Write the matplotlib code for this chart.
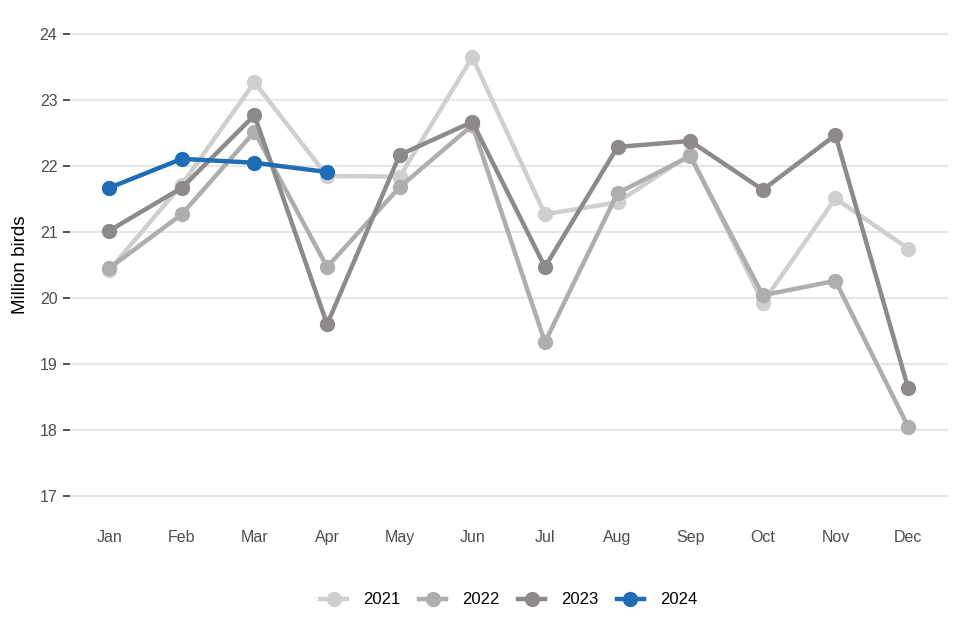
import matplotlib.pyplot as plt

plt.rcParams['font.family'] = ['Liberation Sans', 'DejaVu Sans']

months = ['Jan', 'Feb', 'Mar', 'Apr', 'May', 'Jun', 'Jul', 'Aug', 'Sep', 'Oct', 'Nov', 'Dec']
y2021 = [20.42, 21.72, 23.27, 21.85, 21.84, 23.65, 21.27, 21.45, 22.18, 19.93, 21.51, 20.75]
y2022 = [20.45, 21.27, 22.52, 20.47, 21.68, 22.62, 19.33, 21.59, 22.15, 20.04, 20.26, 18.05]
y2023 = [21.02, 21.67, 22.77, 19.60, 22.17, 22.67, 20.47, 22.29, 22.38, 21.64, 22.47, 18.64]
y2024 = [21.67, 22.11, 22.05, 21.91]

series = [('2021', y2021, '#d0cfcf'),
          ('2022', y2022, '#b0adad'),
          ('2023', y2023, '#8e8a8a'),
          ('2024', y2024, '#1f6db5')]

fig = plt.figure(figsize=(9.6, 6.4), dpi=100)
ax = fig.add_axes([70 / 960, 0.2047, 878 / 960, 0.7625])

x = list(range(len(months)))
for name, vals, col in series:
    ax.plot(x[:len(vals)], vals, color=col, lw=3.2, marker='o', ms=10,
            label=name, solid_joinstyle='round')

ax.set_xlim(-0.54, 11.55)
ax.set_ylim(16.8, 24.2)
ax.set_yticks(range(17, 25))
ax.set_xticks(x)
ax.set_xticklabels(months)
ax.grid(axis='y', color='#e6e6e6', lw=1.5)
ax.set_axisbelow(True)
for s in ax.spines.values():
    s.set_visible(False)
ax.tick_params(axis='y', length=5, width=1.2, color='#333333', labelcolor='#4d4d4d',
               labelsize=11.5, pad=4)
ax.tick_params(axis='x', length=0, labelcolor='#4d4d4d', labelsize=11.5, pad=15)
ax.set_ylabel('Million birds', fontsize=13.5, color='black', labelpad=8)

# legend centred under the plot panel
fig.legend(loc='center', bbox_to_anchor=(509 / 960, 1 - 600 / 640), ncol=4,
           frameon=False, fontsize=12, handlelength=1.6, handletextpad=1.0,
           columnspacing=1.1)

fig.savefig('out.png', dpi=100)
